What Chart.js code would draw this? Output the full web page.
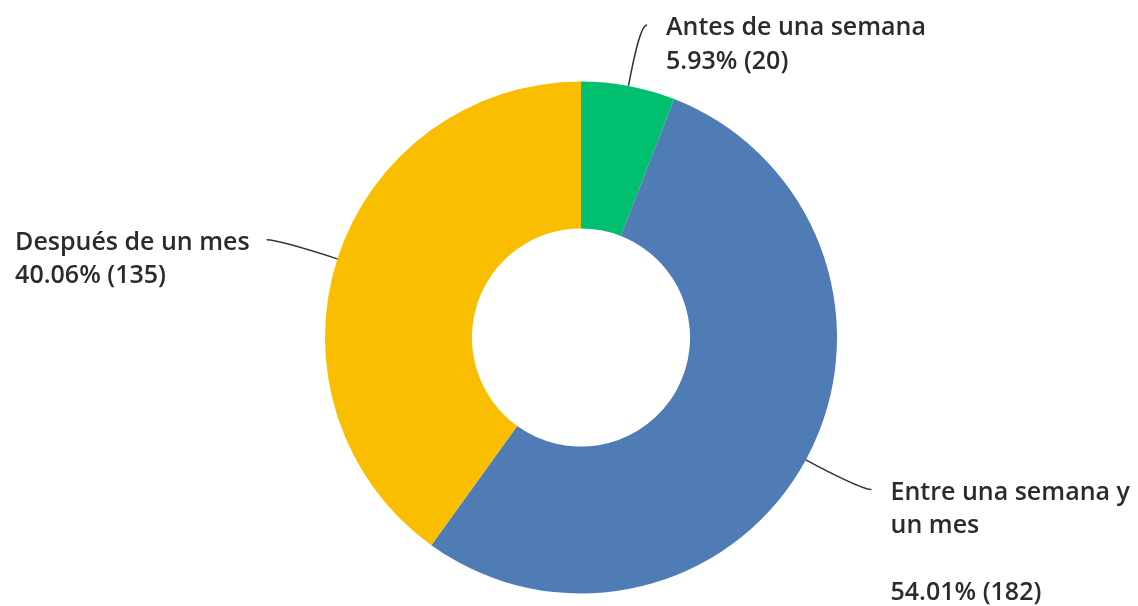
<!DOCTYPE html>
<html>
<head>
<meta charset="utf-8">
<script src="https://cdn.jsdelivr.net/npm/chart.js@4.4.1/dist/chart.umd.min.js"></script>
<style>
  html, body { margin: 0; padding: 0; background: #fff; }
  #wrap { width: 1138px; height: 606px; }
</style>
</head>
<body>
<div id="wrap"><canvas id="donut" width="1138" height="606"></canvas></div>
<script>
// answer options (multi-line where the label wraps) and response counts
const categories = [
  ['Antes de una semana'],
  ['Entre una semana y', 'un mes'],
  ['Después de un mes']
];
const counts = [20, 182, 135];
const colors = ['#00bf6f', '#507cb5', '#f9be00'];

const total = counts.reduce((a, b) => a + b, 0);

// leader lines + labels drawn next to each slice
const calloutPlugin = {
  id: 'callouts',
  afterDatasetsDraw(chart) {
    const ctx = chart.ctx;
    const meta = chart.getDatasetMeta(0);
    ctx.save();
    ctx.font = '600 25px "Open Sans", sans-serif';
    ctx.fillStyle = '#2b2b2b';
    ctx.strokeStyle = '#333';
    ctx.lineWidth = 1.5;
    ctx.textBaseline = 'middle';

    meta.data.forEach((arc, i) => {
      const { x, y, startAngle, endAngle, outerRadius } = arc.getProps(['x', 'y', 'startAngle', 'endAngle', 'outerRadius'], true);
      const mid = (startAngle + endAngle) / 2;
      const cos = Math.cos(mid), sin = Math.sin(mid);
      const right = cos >= 0;
      const dir = right ? 1 : -1;

      const sx = x + cos * outerRadius, sy = y + sin * outerRadius;
      const ex = x + cos * (outerRadius + 68) + dir * 6;
      const ey = y + sin * (outerRadius + 62);
      ctx.beginPath();
      ctx.moveTo(sx, sy);
      ctx.bezierCurveTo(
        x + cos * (outerRadius + 30), y + sin * (outerRadius + 30),
        x + cos * (outerRadius + 66), y + sin * (outerRadius + 62),
        ex, ey
      );
      ctx.stroke();

      const pct = (counts[i] / total * 100).toFixed(2) + '% (' + counts[i] + ')';
      const lines = categories[i].slice();
      if (lines.length > 1) lines.push('');
      lines.push(pct);

      const lh = 33.5;
      const ty = ey + 3;
      ctx.textAlign = 'left';
      if (right) {
        lines.forEach((t, k) => ctx.fillText(t, ex + 19, ty + k * lh));
      } else {
        const w = Math.max(...lines.map(t => ctx.measureText(t).width));
        lines.forEach((t, k) => ctx.fillText(t, ex - 17 - w, ty + k * lh));
      }
    });
    ctx.restore();
  }
};

new Chart(document.getElementById('donut').getContext('2d'), {
  type: 'doughnut',
  data: {
    labels: categories,
    datasets: [{
      data: counts,
      backgroundColor: colors,
      borderWidth: 0,
      hoverOffset: 0
    }]
  },
  options: {
    responsive: false,
    animation: false,
    cutout: '42.6%',
    layout: { padding: { left: 24, right: 0, top: 81.5, bottom: 12.5 } },
    plugins: {
      legend: { display: false },
      tooltip: { enabled: false }
    }
  },
  plugins: [calloutPlugin]
});
</script>
</body>
</html>
